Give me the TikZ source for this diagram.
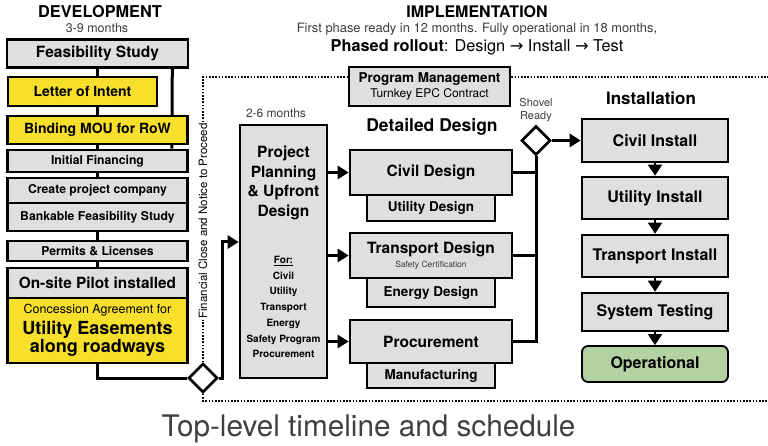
\documentclass[tikz,border=0pt]{standalone}
\usepackage{fontspec}
\setmainfont{TeX Gyre Heros}
\newfontfamily\symfont{DejaVu Sans}
\usetikzlibrary{shapes.geometric,arrows.meta,backgrounds}
\definecolor{boxgray}{RGB}{223,223,225}
\definecolor{boxyellow}{RGB}{247,223,44}
\definecolor{boxgreen}{RGB}{179,209,161}
\definecolor{txtgray}{RGB}{60,60,60}
\newcommand{\fsz}[2]{\fontsize{#1}{#2}\selectfont}
\begin{document}
\begin{tikzpicture}[x=1pt,y=-1pt,
  box/.style={draw,line width=2.6pt,fill=boxgray,inner sep=0pt,align=center},
  ybox/.style={box,fill=boxyellow},
  gate/.style={diamond,draw,line width=2.6pt,fill=white,inner sep=0pt,minimum width=29pt,minimum height=29pt},
  wire/.style={line width=3pt},
  arr/.style={wire,-{Triangle[width=13pt,length=11pt]}},
  down/.style={line width=2pt,-{Triangle[width=14pt,length=11pt]}},
  dotline/.style={line width=1.8pt,dash pattern=on 1.6pt off 1.6pt},
  note/.style={text=txtgray,align=center}]
\useasboundingbox (0,0) rectangle (768,446);

\node[font=\bfseries\fsz{16.3}{18}] (dev) at (100,12) {DEVELOPMENT};
\node[note,font=\fsz{12.5}{14}] (devt) at (97,28) {3-9 months};
\node[font=\bfseries\fsz{16}{18}] (impl) at (477,12) {IMPLEMENTATION};
\node[note,font=\fsz{12.9}{14}] (implt) at (477,29) {First phase ready in 12 months. Fully operational in 18 months,};
\node[font=\fsz{16.3}{18}] (roll) at (477,47) {\textbf{Phased rollout}: Design {\symfont →} Install {\symfont →} Test};

\node[box,minimum width=181pt,minimum height=28pt,font=\bfseries\fsz{15.5}{17}] (feas) at (97.5,53.5) {Feasibility Study};
\node[ybox,minimum width=149pt,minimum height=29pt,font=\bfseries\fsz{14}{16}] (loi) at (82.5,91.5) {Letter of Intent};
\node[ybox,minimum width=180pt,minimum height=28pt,font=\bfseries\fsz{14}{16}] (mou) at (97.5,130) {Binding MOU for RoW};
\node[box,minimum width=180pt,minimum height=22pt,font=\bfseries\fsz{12.2}{13}] (fin) at (97.5,161) {Initial Financing};
\node[box,minimum width=180pt,minimum height=25pt,font=\bfseries\fsz{12.2}{13}] (comp) at (97.5,190.5) {Create project company};
\node[box,minimum width=180pt,minimum height=28pt,font=\bfseries\fsz{12.2}{13}] (bank) at (97.5,217) {Bankable Feasibility Study};
\node[box,minimum width=180pt,minimum height=20pt,font=\bfseries\fsz{12.2}{13}] (perm) at (97.5,251) {Permits \& Licenses};
\node[box,minimum width=180pt,minimum height=30pt,font=\bfseries\fsz{15.4}{17}] (pilot) at (97.5,283) {On-site Pilot installed};
\node[ybox,minimum width=180pt,minimum height=65pt,font=\bfseries\fsz{18}{18.5}] (conc) at (97.5,330.5)
  {{\mdseries\fsz{12.5}{14}Concession Agreement for}\\[2pt]Utility Easements\\along roadways};
\node[gate] (fc) at (203,378) {};

\begin{scope}[on background layer]
\draw[wire] (feas) -- (conc.south) |- (fc.west);
\draw[wire] ([xshift=-17pt]feas.south east) -- ([xshift=-17pt]fin.north east);
\end{scope}

\node[box,minimum width=161pt,minimum height=39pt,font=\bfseries\fsz{13.5}{15}] (pm) at (429.5,86.5)
  {Program Management\\{\mdseries\fsz{12}{14}Turnkey EPC Contract}};
\coordinate (tl) at (203,77);
\coordinate (tr) at (768,77);
\coordinate (bl) at (203,401);
\coordinate (br) at (768,401);
\draw[dotline] (fc.north) -- (tl) -- (tl -| pm.west);
\draw[dotline] (tl -| pm.east) -- (tr);
\draw[dotline] (fc.south) -- (bl) -- (br);
\node[fill=white,rotate=90,inner sep=1.5pt,font=\fsz{11.5}{13}] (fcl) at (203,221) {Financial Close and Notice to Proceed};

\node[note,font=\fsz{12}{14}] (plant) at (276,113) {2-6 months};
\node[box,minimum width=87pt,minimum height=253pt] (plan) at (283.5,251.5) {};
\node[font=\bfseries\fsz{15.5}{19.7},align=center] (plantxt) at (283.5,183) {Project\\Planning\\\& Upfront\\Design};
\node[font=\bfseries\fsz{10}{15.7},align=center] (planfor) at (283.5,307)
  {\underline{For:}\\Civil\\Utility\\Transport\\Energy\\Safety Program\\Procurement};
\draw[arr] (fc.east) -- ++(3.5,0) |- ([yshift=9.5pt]plan.west);

\node[font=\bfseries\fsz{17.5}{19}] (dd) at (432,127) {Detailed Design};
\node[box,minimum width=128pt,minimum height=26pt,font=\bfseries\fsz{13.5}{16}] (udes) at (431,208) {Utility Design};
\node[box,minimum width=162pt,minimum height=45pt,font=\bfseries\fsz{15.5}{18}] (cdes) at (431,172.5) {Civil Design};
\node[box,minimum width=128pt,minimum height=29pt,font=\bfseries\fsz{13.5}{16}] (edes) at (431,292.5) {Energy Design};
\node[box,minimum width=162pt,minimum height=45pt,font=\bfseries\fsz{15.5}{17}] (tdes) at (431,255.5)
  {Transport Design\\[-3pt]{\mdseries\fsz{8.5}{9}\color{txtgray}Safety Certification}};
\node[box,minimum width=128pt,minimum height=25pt,font=\bfseries\fsz{13.5}{16}] (mfg) at (431,375.5) {Manufacturing};
\node[box,minimum width=162pt,minimum height=43pt,font=\bfseries\fsz{15.5}{18}] (proc) at (431,341.5) {Procurement};
\draw[arr] (plan.east |- cdes) -- (cdes.west);
\draw[arr] (plan.east |- tdes) -- (tdes.west);
\draw[arr] (plan.east |- proc) -- (proc.west);

\node[note,font=\fsz{11}{13}] (srt) at (536,110) {Shovel\\Ready};
\node[gate] (sr) at (536,140.5) {};
\draw[wire] (cdes.east) -- (cdes -| sr);
\draw[wire] (tdes.east) -- (tdes -| sr);
\draw[wire] (proc.east) -| (sr.south);

\node[font=\bfseries\fsz{17}{19}] (inst) at (651,98) {Installation};
\node[box,minimum width=146pt,minimum height=43pt,font=\bfseries\fsz{16}{18}] (ci) at (655,140.5) {Civil Install};
\node[box,minimum width=146pt,minimum height=42pt,font=\bfseries\fsz{16}{18}] (ui) at (655,198) {Utility Install};
\node[box,minimum width=146pt,minimum height=42pt,font=\bfseries\fsz{16}{18}] (ti) at (655,256) {Transport Install};
\node[box,minimum width=146pt,minimum height=38pt,font=\bfseries\fsz{16}{18}] (st) at (655,312) {System Testing};
\node[box,fill=boxgreen,line width=1.8pt,rounded corners=6pt,minimum width=146pt,minimum height=36pt,font=\bfseries\fsz{16}{18}] (op) at (655,364) {Operational};
\draw[arr] (sr.east) -- (ci.west);
\draw[down] (ci) -- (ui);
\draw[down] (ui) -- (ti);
\draw[down] (ti) -- (st);
\draw[down] (st) -- (op);

\node[font=\fsz{29.7}{32},text=black!75] (cap) at (368.5,429) {Top-level timeline and schedule};
\end{tikzpicture}
\end{document}
